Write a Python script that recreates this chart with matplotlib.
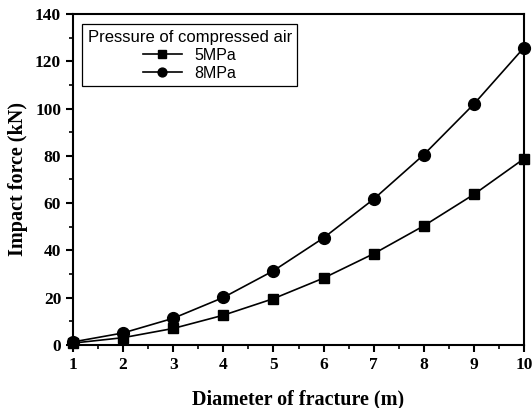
import matplotlib

matplotlib.use("Agg")
import matplotlib.pyplot as plt
from matplotlib.ticker import MultipleLocator

diameter = [1, 2, 3, 4, 5, 6, 7, 8, 9, 10]
force_5mpa = [0.8, 3.1, 7.0, 12.6, 19.6, 28.3, 38.6, 50.4, 63.7, 78.8]
force_8mpa = [1.3, 5.1, 11.3, 20.1, 31.4, 45.3, 61.7, 80.5, 101.9, 125.8]

fig = plt.figure(figsize=(5.32, 4.08), dpi=100)
ax = fig.add_axes([0.1372, 0.1544, 0.8478, 0.8113])

ax.plot(diameter, force_5mpa, color="black", lw=1.2, marker="s", ms=7.5,
        label="5MPa", clip_on=False, zorder=3)
ax.plot(diameter, force_8mpa, color="black", lw=1.2, marker="o", ms=8.5,
        label="8MPa", clip_on=False, zorder=3)

ax.set_xlim(1, 10)
ax.set_ylim(0, 140)
ax.xaxis.set_major_locator(MultipleLocator(1))
ax.xaxis.set_minor_locator(MultipleLocator(0.5))
ax.yaxis.set_major_locator(MultipleLocator(20))
ax.yaxis.set_minor_locator(MultipleLocator(10))

for s in ax.spines.values():
    s.set_linewidth(1.5)
ax.tick_params(which="major", direction="out", length=5, width=1.5,
               top=False, right=False)
ax.tick_params(which="minor", direction="out", length=3, width=1.2,
               top=False, right=False)

serif = ["Liberation Serif", "DejaVu Serif"]
for lab in ax.get_xticklabels() + ax.get_yticklabels():
    lab.set_fontfamily(serif)
    lab.set_fontweight("bold")
    lab.set_fontsize(12.5)

ax.set_xlabel("Diameter of fracture (m)", family=serif, weight="bold",
              fontsize=14.5, labelpad=12)
ax.set_ylabel("Impact force (kN)", family=serif, weight="bold",
              fontsize=14.5, labelpad=5)

leg = ax.legend(title="Pressure of compressed air", loc="upper left",
                bbox_to_anchor=(0.02, 0.97), borderaxespad=0, fancybox=False,
                edgecolor="black", framealpha=1, borderpad=0.35,
                handlelength=2.4, handletextpad=0.8, labelspacing=0.2,
                markerscale=0.75,
                prop={"family": "Liberation Sans", "size": 11.5},
                title_fontproperties={"family": "Liberation Sans", "size": 12})
leg.get_frame().set_linewidth(0.9)

fig.savefig("out.png", dpi=100)
